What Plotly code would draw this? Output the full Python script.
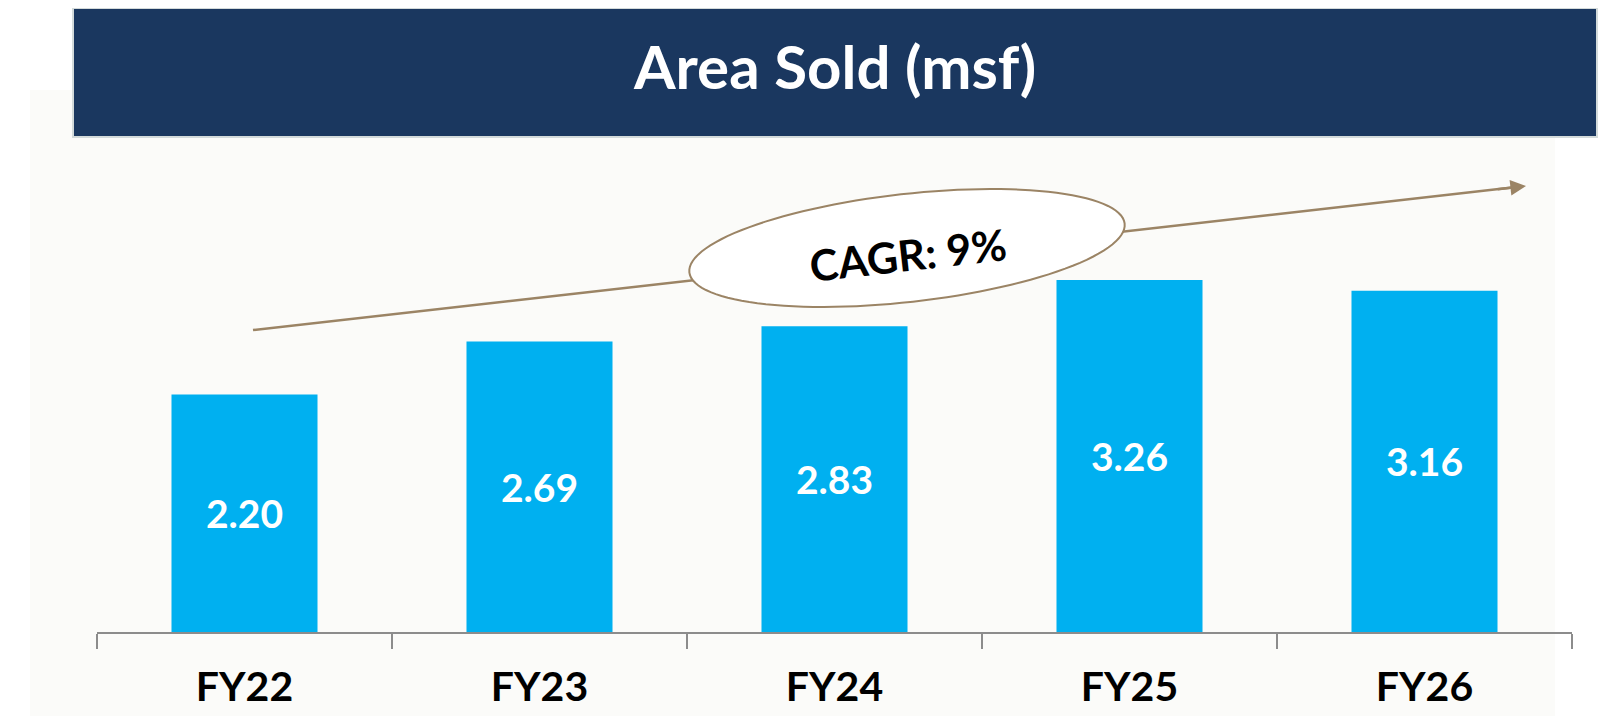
import numpy as np
import plotly.graph_objects as go

# ---- data ----
categories = ["FY22", "FY23", "FY24", "FY25", "FY26"]
area_sold = [2.20, 2.69, 2.83, 3.26, 3.16]
title_text = "Area Sold (msf)"
cagr_text = "CAGR: 9%"

OFF = 8  # default page body margin
W, H = 1610, 716
# target plot area (screen px): x 97..1572, y 92..632
ML = 97 - OFF
MT = 92 - OFF
MR = W - (1572 - OFF)
MB = H - (632 - OFF)
PW, PH = W - ML - MR, H - MT - MB

def px(x):
    return (x - OFF - ML) / PW

def py(y):
    return (H - MB - (y - OFF)) / PH

FONT = "Lato, 'Open Sans', sans-serif"
BROWN = "#9B8465"

fig = go.Figure()
fig.add_trace(go.Bar(
    x=categories, y=area_sold,
    text=[f"{v:.2f}" for v in area_sold],
    textposition="inside", insidetextanchor="middle",
    textfont=dict(family=FONT, size=39, color="white", weight="bold"),
    marker=dict(color="#00B0F0", line=dict(width=0)),
    width=0.495, hoverinfo="skip",
))

shapes = []
# light panel
shapes.append(dict(type="rect", xref="paper", yref="paper",
                   x0=px(30), x1=px(1555), y0=py(740), y1=py(90),
                   fillcolor="#FBFBF9", line=dict(width=0), layer="below"))
# title banner
shapes.append(dict(type="rect", xref="paper", yref="paper",
                   x0=px(73), x1=px(1597), y0=py(137), y1=py(8),
                   fillcolor="#1A375F", line=dict(color="#D3DADA", width=2), layer="above"))
# arrow line
tail = (253, 330)
tip = (1526, 186)
shapes.append(dict(type="line", xref="paper", yref="paper",
                   x0=px(tail[0]), y0=py(tail[1]), x1=px(1512), y1=py(187.6),
                   line=dict(color=BROWN, width=2.5), layer="above"))
# ellipse
cx, cy, a, b = 907, 248, 219, 54
th = np.deg2rad(6.4)
t = np.linspace(0, 2 * np.pi, 121)
ex = cx + a * np.cos(t) * np.cos(th) - b * np.sin(t) * np.sin(th)
ey = cy - (a * np.cos(t) * np.sin(th) + b * np.sin(t) * np.cos(th))
path = "M " + " L ".join(f"{px(xx):.5f},{py(yy):.5f}" for xx, yy in zip(ex, ey)) + " Z"
shapes.append(dict(type="path", xref="paper", yref="paper", path=path,
                   fillcolor="white", line=dict(color=BROWN, width=2), layer="above"))

dx, dy = tip[0] - tail[0], tip[1] - tail[1]
L = np.hypot(dx, dy)
annotations = [
    dict(text=title_text, xref="paper", yref="paper", x=px(834), y=py(66),
         showarrow=False, font=dict(family=FONT, size=60, color="white", weight="bold"),
         xanchor="center", yanchor="middle"),
    dict(text=cagr_text, xref="paper", yref="paper", x=px(908), y=py(255),
         showarrow=False, textangle=-6.4,
         font=dict(family=FONT, size=43, color="black", weight="bold"),
         xanchor="center", yanchor="middle"),
    dict(text="", xref="paper", yref="paper", x=px(tip[0]), y=py(tip[1]),
         axref="pixel", ayref="pixel", ax=-30 * dx / L, ay=-30 * dy / L,
         showarrow=True, arrowhead=2, arrowsize=1.25, arrowwidth=2.5,
         arrowcolor=BROWN, standoff=0),
]

fig.update_layout(
    width=W, height=H,
    margin=dict(l=ML, r=MR, t=MT, b=MB, autoexpand=False),
    paper_bgcolor="white", plot_bgcolor="rgba(0,0,0,0)",
    showlegend=False,
    shapes=shapes, annotations=annotations,
    bargap=0.505,
    xaxis=dict(range=[-0.5, 4.5], showgrid=False, zeroline=False, automargin=False,
               showline=True, linecolor="#8C8C8C", linewidth=1.5,
               ticks="outside", ticklen=15, tickcolor="#8C8C8C", tickwidth=1.5,
               tickson="boundaries", ticklabelstandoff=18,
               tickfont=dict(family=FONT, size=41, color="black", weight="bold"),
               fixedrange=True),
    yaxis=dict(range=[0, 5], visible=False, fixedrange=True, automargin=False),
)

fig.write_html("out.html", config={"displayModeBar": False})
